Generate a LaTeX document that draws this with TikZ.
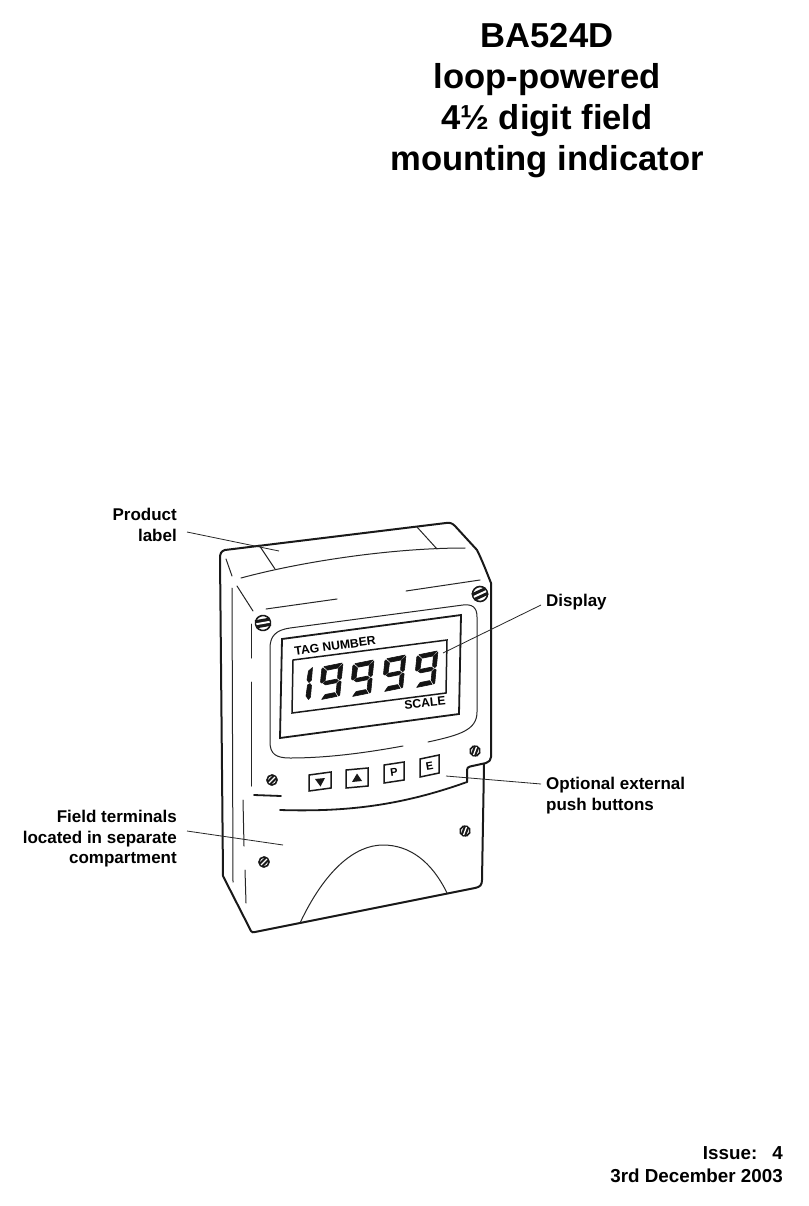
\documentclass[tikz,border=0pt]{standalone}
\usepackage{fontspec}
\setmainfont{Liberation Sans}
\tikzset{
  outline/.style={line width=2pt,black!90,line join=round,line cap=round},
  rim/.style={line width=1.8pt,black!90,line cap=round},
  thin line/.style={line width=1pt,black!85,line cap=round},
  frame/.style={line width=1.8pt,black!90,line join=miter},
  leader/.style={line width=0.8pt,black!85},
  title/.style={font=\fontsize{34.6}{34.6}\selectfont\bfseries,anchor=base,inner sep=0pt},
  callout/.style={font=\fontsize{17}{20.6}\selectfont\bfseries,inner sep=0pt},
  foot/.style={font=\fontsize{18.8}{20}\selectfont\bfseries,anchor=base east,inner sep=0pt},
  legend text/.style={font=\fontsize{12.2}{12.2}\selectfont\bfseries,inner sep=0pt},
  key/.style={line width=1.5pt,black!90,fill=white,line join=miter},
  key text/.style={font=\fontsize{11}{11}\selectfont\bfseries,inner sep=0pt},
  segment/.style={fill=black!92,draw=black!92,line width=0.6pt,line join=round},
}
\newcommand{\myscrew}[4]{%
  \begin{scope}[shift={(#1,#2)},rotate=#4]
    \draw[line width=1.6pt,black!90,fill=white] (0,0) circle (#3);
    \fill[black!90] (-#3,-0.55*#3) rectangle (#3,0.55*#3);
    \fill[white] (-#3+0.8,-0.13*#3) rectangle (#3-0.8,0.13*#3);
  \end{scope}}
\newcommand{\mynine}[2]{%
  \begin{scope}[shift={(#1,#2)},x={(1pt,0.2pt)},y={(-0.1pt,-1pt)}]
    \path[segment] (2,0)--(20,0)--(16,4.3)--(6,4.3)--cycle;
    \path[segment] (1,1)--(5,5)--(4.6,14.5)--(1.6,16.5)--(0,15)--(0,2)--cycle;
    \path[segment] (21,1)--(21,15)--(19.5,16.5)--(17,14.5)--(16.8,5)--cycle;
    \path[segment] (3,17)--(5.5,15.3)--(15.8,15.3)--(18,17)--(15.8,19)--(5.5,19)--cycle;
    \path[segment] (19.5,17.8)--(21,19)--(21,32)--(20,33)--(17,28.5)--(17,20)--cycle;
    \path[segment] (6,28.7)--(15.5,28.7)--(18.5,33)--(3,33)--cycle;
  \end{scope}}
\begin{document}
\begin{tikzpicture}[x=1pt,y=-1pt]
\useasboundingbox (0,0) rectangle (808,1206);
\fill[white] (0,0) rectangle (808,1206);

% title
\node[title] (t1) at (547,48) {BA524D};
\node[title] (t2) at (547,89) {loop-powered};
\node[title] (t3) at (547,130) {4½ digit field};
\node[title] (t4) at (547,171) {mounting indicator};

% body outline
\draw[outline] (225,550) -- (446,523) .. controls (450,522.5) and (452,523) .. (455,526)
  -- (477,550) .. controls (482,560) and (487,573) .. (491,583) -- (491,757)
  .. controls (491,760) and (489,762) .. (486,763) -- (470,766.5) .. controls (468,767) and (467,768) .. (467,770) -- (467,782);
\draw[outline] (225,550) .. controls (221,551) and (220,554) .. (220,558)
  -- (223,876) -- (251,931) .. controls (252,932.5) and (253,932.5) .. (255,932) -- (475,888)
  .. controls (480,887) and (482,885) .. (482,880) -- (484,764);
\draw[rim] (280,810) .. controls (345,812) and (400,806) .. (467,782);
\draw[rim] (254,795) -- (281,796);

% body detail lines
\draw[thin line] (259,545) -- (275,569);
\draw[thin line] (417,527) -- (437,549);
\draw[thin line] (241,578) .. controls (300,562) and (390,548) .. (465,548);
\draw[thin line] (226,559) -- (232,576);
\draw[thin line] (237,586) -- (253,611);
\draw[thin line] (232,588) -- (233,882);
\draw[thin line] (266,609) -- (337,599);
\draw[thin line] (406,591) -- (480,580);
\draw[thin line] (251,624) -- (251,658);
\draw[thin line] (251,682) -- (251,786);
\draw[thin line] (243,800) -- (244,846);
\draw[thin line] (245,870) -- (246,903);
\draw[thin line] (300,923) .. controls (325,870) and (355,845) .. (383,845)
  .. controls (410,845) and (432,862) .. (447,893);

% bezel
\draw[thin line] (428,742) .. controls (460,735) and (477,730) .. (477,712) -- (477,617)
  .. controls (477,607) and (472,604) .. (463,605) -- (290,628)
  .. controls (276,630) and (270,636) .. (270,648) -- (270,742)
  .. controls (270,754) and (276,758) .. (290,758) .. controls (330,758) and (370,752) .. (403,746);

% display
\draw[frame] (282,639) -- (461,615) -- (459,714) -- (280,738) -- cycle;
\draw[frame,line width=1.5pt] (293,660) -- (447,640) -- (446,693) -- (292,713) -- cycle;
\node[legend text,rotate=8] (tag) at (335,646) {TAG NUMBER};
\node[legend text,rotate=6] (scale) at (425,703) {SCALE};
% segments of the display
\path[segment] (308.5,671) -- (312.5,667.5) -- (311.5,680) -- (309,682.5) -- (307,680) -- cycle;
\path[segment] (307.5,685) -- (310,683.5) -- (311.5,685.5) -- (310.5,697) -- (308.5,699.5) -- (306,696) -- cycle;
\mynine{322}{667}
\mynine{353}{664}
\mynine{385}{659}
\mynine{417}{655}

% keys
\draw[key] (309,775) -- (331,772) -- (331,788) -- (309,791) -- cycle;
\fill[black!90] (315,779) -- (325,778) -- (320.5,786.5) -- cycle;
\draw[key] (346,770) -- (368,768) -- (368,786) -- (346,788) -- cycle;
\fill[black!90] (352,782) -- (362,781) -- (357,773.5) -- cycle;
\draw[key] (384,765) -- (404,762) -- (404,780) -- (384,783) -- cycle;
\node[key text,rotate=8] (kp) at (394,772.5) {P};
\draw[key] (420,759) -- (439,755) -- (439,773) -- (420,777) -- cycle;
\node[key text,rotate=10] (ke) at (429.5,766) {E};

% screws
\myscrew{263}{623}{7.5}{10}
\myscrew{480}{594}{7.5}{25}
\myscrew{272}{780}{5}{45}
\myscrew{475}{751}{5}{70}
\myscrew{465}{831}{5}{70}
\myscrew{264}{862}{5}{45}

% callouts
\node[callout,align=right,anchor=north east] (lbl) at (177,508) {Product\\label};
\node[callout,anchor=west] (disp) at (546,602) {Display};
\node[callout,align=left,anchor=north west] (btn) at (546,777) {Optional external\\push buttons};
\node[callout,align=right,anchor=north east] (fld) at (177,810) {Field terminals\\located in separate\\compartment};

\coordinate (lblend) at (279,551);
\coordinate (dispend) at (443,653);
\coordinate (btnend) at (446,776);
\coordinate (fldend) at (283,845);
\coordinate (lblstart) at (187,532);
\coordinate (dispstart) at (541,605);
\coordinate (btnstart) at (541,784);
\coordinate (fldstart) at (187,831);
\draw[leader] (lblstart) -- (lblend);
\draw[leader] (dispstart) -- (dispend);
\draw[leader] (btnstart) -- (btnend);
\draw[leader] (fldstart) -- (fldend);

% footer
\node[foot] (iss) at (783,1159) {Issue:\hspace{0.8em}4};
\node[foot] (date) at (783,1182) {3rd December 2003};
\end{tikzpicture}
\end{document}
